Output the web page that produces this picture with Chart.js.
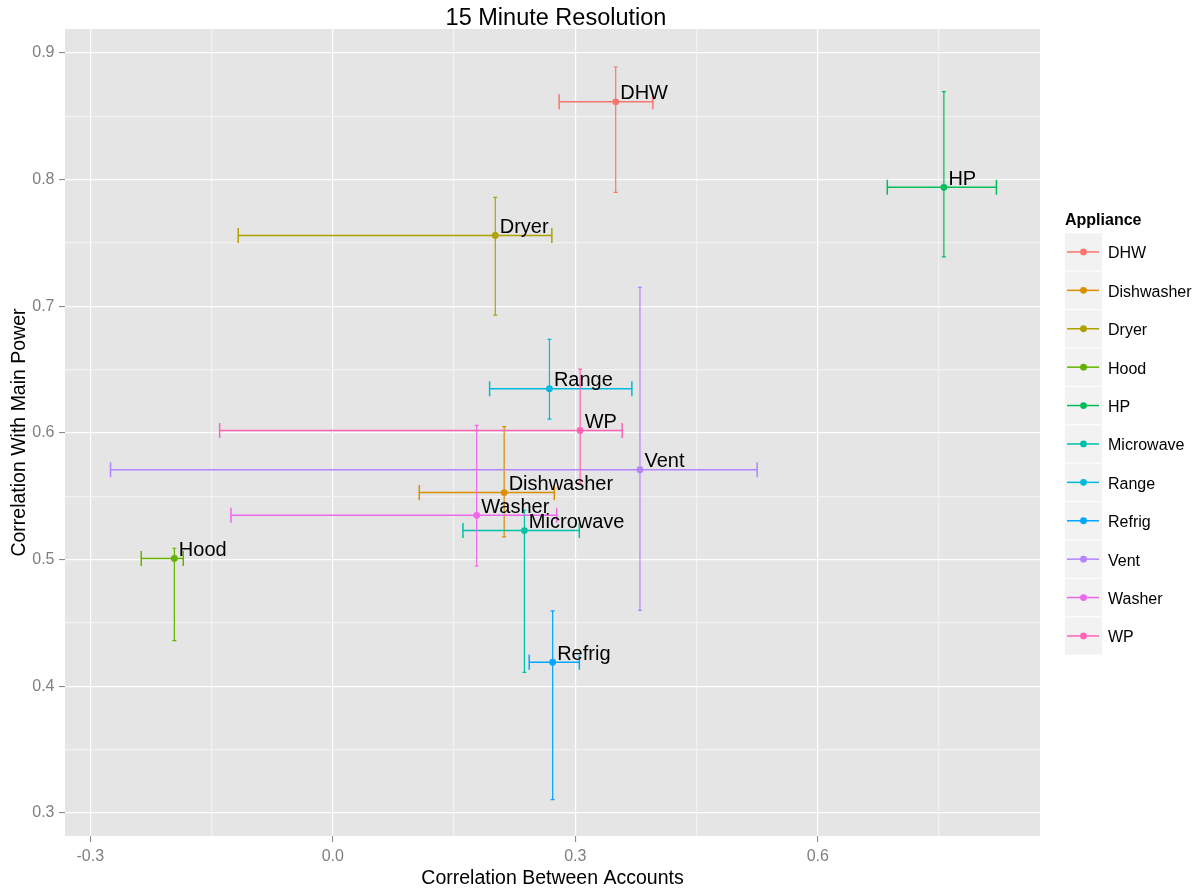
<!DOCTYPE html>
<html>
<head>
<meta charset="utf-8">
<title>15 Minute Resolution</title>
<script src="https://cdn.jsdelivr.net/npm/chart.js@4/dist/chart.umd.min.js"></script>
<style>
  html, body { margin: 0; padding: 0; background: #ffffff; }
  canvas { display: block; }
</style>
</head>
<body>
<canvas id="c" width="1202" height="890" style="width:1202px;height:890px"></canvas>
<script>
// Appliances and their correlation estimates with uncertainty ranges
const appliances = ['DHW', 'Dishwasher', 'Dryer', 'Hood', 'HP', 'Microwave', 'Range', 'Refrig', 'Vent', 'Washer', 'WP'];
const betweenAccounts = [0.350, 0.212, 0.201, -0.196, 0.756, 0.237, 0.268, 0.272, 0.380, 0.178, 0.306];
const betweenLow      = [0.280, 0.107, -0.117, -0.237, 0.686, 0.161, 0.194, 0.243, -0.275, -0.126, -0.140];
const betweenHigh     = [0.396, 0.274, 0.271, -0.185, 0.821, 0.305, 0.370, 0.305, 0.525, 0.277, 0.358];
const withMain        = [0.8615, 0.553, 0.756, 0.501, 0.794, 0.523, 0.635, 0.419, 0.571, 0.535, 0.602];
const withMainLow     = [0.790, 0.518, 0.693, 0.436, 0.739, 0.411, 0.611, 0.3105, 0.460, 0.495, 0.560];
const withMainHigh    = [0.889, 0.605, 0.786, 0.509, 0.8695, 0.539, 0.674, 0.4595, 0.715, 0.606, 0.6505];

// Axis ticks (major ones get labels, the in-between ones are minor grid lines)
const xTicks = [-0.3, -0.15, 0.0, 0.15, 0.3, 0.45, 0.6, 0.75];
const yTicks = [0.3, 0.35, 0.4, 0.45, 0.5, 0.55, 0.6, 0.65, 0.7, 0.75, 0.8, 0.85, 0.9];
const xMajor = [-0.3, 0.0, 0.3, 0.6];
const yMajor = [0.3, 0.4, 0.5, 0.6, 0.7, 0.8, 0.9];

const palette = ['#F8766D', '#DB8E00', '#AEA200', '#64B200', '#00BD5C', '#00C1A7', '#00BADE', '#00A6FF', '#B385FF', '#EF67EB', '#FF63B6'];

const FONT = '"Liberation Sans", Arial, Helvetica, sans-serif';
Chart.defaults.font.family = FONT;

const isMajor = (list, v) => list.some(m => Math.abs(m - v) < 1e-9);

const panelPlugin = {
  id: 'panel',
  beforeDraw(chart) {
    const { ctx, chartArea: a } = chart;
    ctx.save();
    ctx.fillStyle = '#ffffff';
    ctx.fillRect(0, 0, chart.width, chart.height);
    ctx.fillStyle = '#E5E5E5';
    ctx.fillRect(a.left, a.top, a.right - a.left, a.bottom - a.top);
    ctx.restore();
  },
  beforeDatasetsDraw(chart) {
    const { ctx } = chart;
    const xs = chart.scales.x, ys = chart.scales.y;
    ctx.save();
    ctx.lineCap = 'butt';
    appliances.forEach((name, i) => {
      ctx.strokeStyle = palette[i];
      const px = xs.getPixelForValue(betweenAccounts[i]);
      const py = ys.getPixelForValue(withMain[i]);
      // vertical range
      const yTop = ys.getPixelForValue(withMainHigh[i]);
      const yBot = ys.getPixelForValue(withMainLow[i]);
      ctx.lineWidth = 1.2;
      ctx.beginPath();
      ctx.moveTo(px, yTop); ctx.lineTo(px, yBot);
      ctx.moveTo(px - 2, yTop); ctx.lineTo(px + 2, yTop);
      ctx.moveTo(px - 2, yBot); ctx.lineTo(px + 2, yBot);
      ctx.stroke();
      // horizontal range
      const xL = xs.getPixelForValue(betweenLow[i]);
      const xR = xs.getPixelForValue(betweenHigh[i]);
      ctx.lineWidth = 1.5;
      ctx.beginPath();
      ctx.moveTo(xL, py); ctx.lineTo(xR, py);
      ctx.moveTo(xL, py - 7.5); ctx.lineTo(xL, py + 7.5);
      ctx.moveTo(xR, py - 7.5); ctx.lineTo(xR, py + 7.5);
      ctx.stroke();
    });
    ctx.restore();
  },
  afterDatasetsDraw(chart) {
    const { ctx } = chart;
    const xs = chart.scales.x, ys = chart.scales.y;
    ctx.save();
    ctx.fillStyle = '#000000';
    ctx.font = '20px ' + FONT;
    ctx.textAlign = 'left';
    ctx.textBaseline = 'alphabetic';
    appliances.forEach((name, i) => {
      const px = xs.getPixelForValue(betweenAccounts[i]);
      const py = ys.getPixelForValue(withMain[i]);
      ctx.fillText(name, px + 4.5, py - 2.5);
    });
    ctx.restore();
  },
  afterDraw(chart) {
    const { ctx } = chart;
    ctx.save();
    // plot title
    ctx.fillStyle = '#000000';
    ctx.font = '23.5px ' + FONT;
    ctx.textAlign = 'center';
    ctx.textBaseline = 'middle';
    ctx.fillText('15 Minute Resolution', 556, 18.5);

    // legend
    ctx.textAlign = 'left';
    ctx.font = 'bold 16px ' + FONT;
    ctx.fillText('Appliance', 1065, 221);
    const keyLeft = 1065, keyW = 37, rowTop = 233.3, step = 38.4, keyH = 37.3;
    ctx.font = '16px ' + FONT;
    appliances.forEach((name, i) => {
      const top = rowTop + i * step;
      const cy = top + keyH / 2;
      ctx.fillStyle = '#F2F2F2';
      ctx.fillRect(keyLeft, top, keyW, keyH);
      ctx.strokeStyle = palette[i];
      ctx.lineWidth = 1.5;
      ctx.beginPath();
      ctx.moveTo(keyLeft + 2, cy); ctx.lineTo(keyLeft + keyW - 3, cy);
      ctx.stroke();
      ctx.fillStyle = palette[i];
      ctx.beginPath();
      ctx.arc(keyLeft + 18.5, cy, 3.4, 0, Math.PI * 2);
      ctx.fill();
      ctx.fillStyle = '#000000';
      ctx.fillText(name, 1108, cy + 2);
    });
    ctx.restore();
  }
};

const gridColor = (list) => (c) => (c.tick && isMajor(list, c.tick.value)) ? '#FFFFFF' : '#F2F2F2';
const tickColor = (list) => (c) => (c.tick && isMajor(list, c.tick.value)) ? '#7F7F7F' : 'rgba(0,0,0,0)';

new Chart(document.getElementById('c'), {
  type: 'scatter',
  data: {
    datasets: appliances.map((name, i) => ({
      label: name,
      data: [{ x: betweenAccounts[i], y: withMain[i] }],
      backgroundColor: palette[i],
      borderColor: palette[i],
      pointRadius: 3.4,
      pointBorderWidth: 0,
      pointHoverRadius: 3.4
    }))
  },
  options: {
    responsive: false,
    animation: false,
    devicePixelRatio: 1,
    events: [],
    layout: { padding: { top: 29, right: 162, left: 0, bottom: 0 } },
    plugins: {
      legend: { display: false },
      tooltip: { enabled: false },
      title: { display: false }
    },
    scales: {
      x: {
        type: 'linear',
        min: -0.3313,
        max: 0.8749,
        afterBuildTicks: (s) => { s.ticks = xTicks.map(v => ({ value: v })); },
        afterFit: (s) => { s.height = 54; },
        border: { display: false },
        grid: {
          color: gridColor(xMajor),
          lineWidth: 1.2,
          drawTicks: true,
          tickLength: 6,
          tickColor: tickColor(xMajor),
          tickWidth: 1
        },
        ticks: {
          autoSkip: false,
          maxRotation: 0,
          padding: 5,
          color: '#7F7F7F',
          font: { size: 16 },
          callback: (v) => isMajor(xMajor, v) ? v.toFixed(1) : ''
        },
        title: {
          display: true,
          text: 'Correlation Between Accounts',
          color: '#000000',
          font: { size: 19.5 },
          padding: { top: 0, bottom: 0 }
        }
      },
      y: {
        type: 'linear',
        min: 0.2818,
        max: 0.919,
        afterBuildTicks: (s) => { s.ticks = yTicks.map(v => ({ value: v })); },
        afterFit: (s) => { s.width = 65; },
        border: { display: false },
        grid: {
          color: gridColor(yMajor),
          lineWidth: 1.2,
          drawTicks: true,
          tickLength: 6,
          tickColor: tickColor(yMajor),
          tickWidth: 1
        },
        ticks: {
          autoSkip: false,
          padding: 4.5,
          color: '#7F7F7F',
          font: { size: 16 },
          callback: (v) => isMajor(yMajor, v) ? v.toFixed(1) : ''
        },
        title: {
          display: true,
          text: 'Correlation With Main Power',
          color: '#000000',
          font: { size: 19.5 },
          padding: { top: 8, bottom: 0 }
        }
      }
    }
  },
  plugins: [panelPlugin]
});
</script>
</body>
</html>
